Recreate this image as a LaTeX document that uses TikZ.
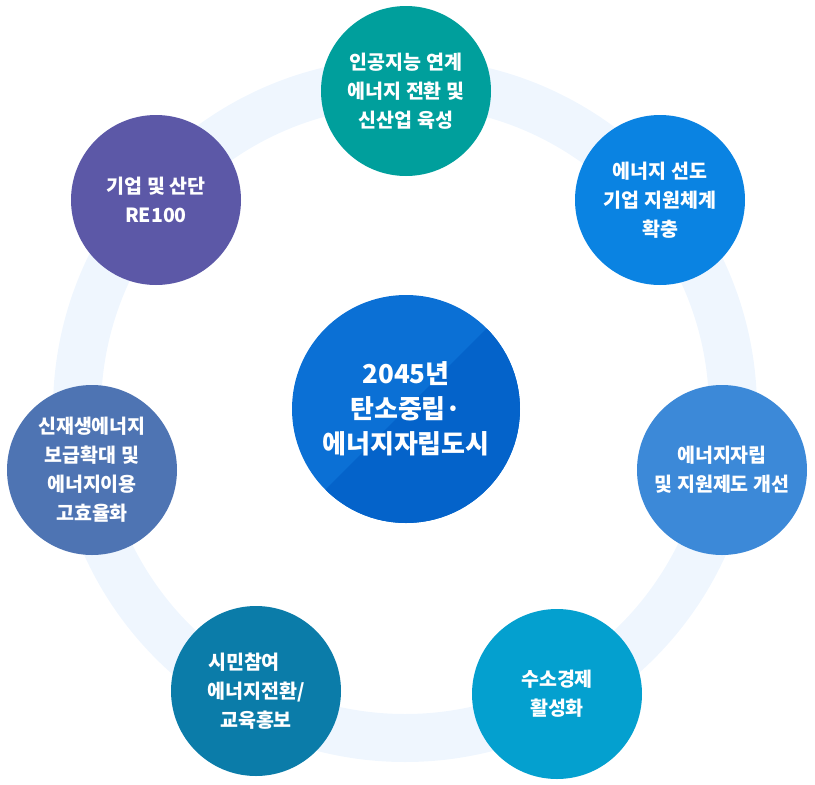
\documentclass[tikz,border=0pt]{standalone}
\usepackage{fontspec}
\setmainfont{Noto Sans CJK KR}
\usepackage{xcolor}
\definecolor{ringblue}{HTML}{EFF6FE}
\definecolor{hublight}{HTML}{0B70D5}
\definecolor{hubdark}{HTML}{0463CA}
\definecolor{teal}{HTML}{009F9C}
\definecolor{skyblue}{HTML}{0A83E2}
\definecolor{midblue}{HTML}{3C89D8}
\definecolor{cyanblue}{HTML}{04A0CF}
\definecolor{seablue}{HTML}{0B7CA9}
\definecolor{steelblue}{HTML}{4E74B3}
\definecolor{violet}{HTML}{5C58A7}

\begin{document}
\begin{tikzpicture}[x=1pt,y=-1pt]
    \tikzset{bubble/.style={circle,minimum size=170pt,inner sep=0pt,text=white,align=center,
        font=\bfseries\fontsize{19.5}{29}\selectfont}}
\useasboundingbox (0,0) rectangle (815,785);
\draw[ringblue,line width=48pt] (405,410) circle (328pt);
% centre
\node[bubble,minimum size=228pt,fill=hublight,font=\bfseries\fontsize{26}{35}\selectfont,
  path picture={\fill[hubdark] (path picture bounding box.south west) -- (path picture bounding box.north east)
     -- (path picture bounding box.south east) -- cycle;}] (hub) at (406,409)
  {2045년\\탄소중립·\\에너지자립도시};
% outer ring
\node[bubble,fill=teal] (ai) at (406,91) {인공지능 연계\\에너지 전환 및\\신산업 육성};
\node[bubble,fill=skyblue] (lead) at (660,200) {에너지 선도\\기업 지원체계\\확충};
\node[bubble,fill=midblue] (self) at (722,470) {에너지자립\\및 지원제도 개선};
\node[bubble,fill=cyanblue] (hydro) at (557,694) {수소경제\\활성화};
\node[bubble,fill=seablue] (citizen) at (256,691) {시민참여\hspace*{24pt}\\에너지전환/\\교육홍보};
\node[bubble,fill=steelblue] (renew) at (92,470) {신재생에너지\\보급확대 및\\에너지이용\hspace*{5pt}\\고효율화};
\node[bubble,fill=violet] (re) at (156,200) {기업 및 산단\\RE100};
\end{tikzpicture}
\end{document}
